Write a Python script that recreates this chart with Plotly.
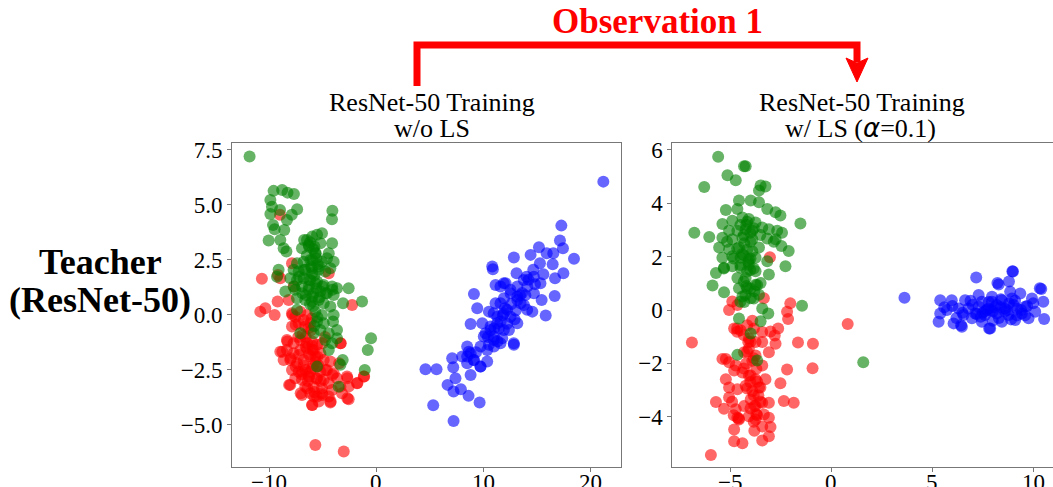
import plotly.graph_objects as go

# ---------------- data ----------------
# Left panel: ResNet-50 training w/o LS
L_red_x = [-10.69,-10.84,-10.37,-9.5,-9.22,-9.19,-8.97,-8.19,-7.88,-7.73,-4.45,-2.27,-9.0,
           -7.88,-7.57,-7.1,-6.48,-6.01,-7.88,-7.26,-6.64,-6.17,-8.35,-7.73,-7.1,-6.48,-6.01,
           -5.54,-3.36,-8.97,-8.35,-7.73,-7.1,-6.48,-5.86,-5.23,-8.66,-8.04,-7.41,-6.79,-6.17,
           -5.7,-4.92,-4.3,-7.88,-7.26,-6.64,-6.01,-5.23,-4.61,-3.99,-7.57,-6.95,-6.32,-5.54,
           -4.92,-4.45,-3.68,-2.74,-8.04,-6.64,-5.86,-5.08,-4.14,-3.36,-2.59,-1.81,-1.18,-6.95,
           -6.17,-5.54,-5.08,-4.45,-2.59,-6.01,-5.39,-4.3,-3.21,-5.7,-3.05,
           -6.3,-5.9,-6.6,-5.7,-6.2,-5.6,-6.8,-6.0,-5.4,-6.4,-5.8,-6.9,-7.3,-5.2,-6.1,-4.8,-7.0,
           -7.84,-7.53,-6.79,-6.32,-8.31,-8.78,-8.0,-7.22,-6.6,-5.98,-5.51,-5.04,-7.53,-6.91,
           -6.28,-5.51,-4.73,-4.11,-3.48,-3.33,-8.15,-7.07,-6.44,-5.82,-5.04,-4.27,-5.98,-2.71,
           -1.77,-1.15,-2.71]
L_red_y = [1.64,0.15,0.3,0.0,0.61,1.82,1.67,0.68,2.35,1.29,1.89,0.45,4.55,
           0.08,-0.08,0.15,0.0,-0.15,-0.53,-0.38,-0.53,-0.38,-1.14,-1.29,-1.14,-1.29,-1.21,
           -1.36,-1.29,-1.67,-1.59,-1.74,-1.59,-1.52,-1.59,-1.74,-2.05,-2.05,-2.2,-2.05,-1.89,
           -2.12,-2.05,-2.12,-2.5,-2.58,-2.5,-2.42,-2.58,-2.5,-2.65,-2.88,-2.95,-2.8,-2.88,
           -2.95,-3.11,-2.88,-2.8,-3.18,-3.26,-3.26,-3.33,-3.41,-3.26,-3.26,-3.11,-2.8,-3.64,
           -3.56,-3.71,-3.56,-3.71,-3.83,-4.09,-3.94,-3.98,-3.56,-5.91,-6.21,
           -1.8,-2.3,-1.0,-1.9,-2.6,-2.9,-2.3,-1.4,-2.3,-3.0,-3.5,-0.9,-1.0,-3.0,-0.7,-1.0,-2.7,
           0.0,-0.45,-0.23,-0.6,-1.21,-1.67,-1.97,-1.82,-1.44,-1.59,-1.9,-1.29,-2.35,-2.58,
           -2.8,-2.35,-2.5,-2.73,-2.2,-1.29,-3.18,-3.56,-3.33,-3.71,-3.64,-3.94,-4.09,-3.79,
           -3.1,-2.8,-2.88]

L_green_x = [-11.84,-9.6,-8.8,-8.3,-7.7,-9.9,-9.75,-9.9,-9.0,-8.35,-7.4,-7.9,-9.65,-9.5,-8.6,
             -10.06,-8.97,-8.66,-8.4,-4.11,-4.15,-9.13,-9.28,
             -6.48,-6.0,-5.54,-5.08,-6.95,-6.32,-5.79,-5.23,-4.14,-4.45,-4.61,-3.99,-7.41,-6.79,
             -6.17,-5.61,-5.08,-7.73,-7.26,-6.64,-6.01,-5.39,-4.77,-4.3,-8.04,-7.41,-6.79,-6.17,
             -5.54,-4.92,-4.14,-3.68,-2.59,-8.5,-7.57,-6.95,-6.32,-5.86,-5.23,-4.61,-3.99,-3.12,
             -1.34,-7.41,-6.64,-6.01,-5.39,-4.92,-4.3,-7.41,-5.7,-5.08,-3.99,-5.54,-4.92,-4.05,
             -5.23,-4.45,-3.68,-7.1,-5.86,-4.77,-4.14,-3.68,-4.45,-0.5,-0.81,-3.15,-3.36,-1.09,
             -5.54,-3.52,
             -6.2,-5.9,-6.5,-5.7,-6.1,-5.5,-6.0,-5.8,-6.3,-5.6,-6.6,-5.3,-5.9,-6.2,-5.5,-5.8,
             -6.75,-6.28,-5.67,-5.98,-5.35,-6.75,-7.22,-6.28,-5.67,-5.04,-7.69,-6.91,-5.98,-4.73,
             -4.11]
L_green_y = [7.2,5.64,5.68,5.56,5.5,5.23,4.92,4.59,4.77,4.32,4.8,4.55,4.09,3.89,3.86,
             3.38,3.41,3.03,2.88,4.74,4.35,2.05,1.74,
             3.41,3.56,3.64,3.71,3.03,3.18,3.11,3.26,3.26,2.8,2.58,2.42,2.35,2.42,
             2.5,2.58,2.42,2.05,1.97,2.05,2.12,2.05,1.97,2.12,1.67,1.59,1.67,1.59,
             1.52,1.36,1.29,1.21,1.21,1.06,1.14,1.29,1.14,0.98,1.06,0.98,0.91,0.53,
             0.61,0.76,0.68,0.61,0.68,0.53,0.38,0.23,0.15,0.0,0.0,-0.3,-0.38,-0.3,
             -0.68,-0.83,-0.68,-0.83,-0.83,-1.14,-1.29,-1.06,-1.59,-1.06,-1.59,-2.05,-2.27,-2.5,
             -2.35,-3.26,
             3.3,3.0,2.7,2.8,2.2,2.3,1.9,1.8,1.3,1.2,0.9,0.8,0.4,0.5,-0.1,-0.5,
             3.41,3.1,2.8,2.5,2.2,2.05,1.74,1.59,1.44,1.29,1.29,0.98,0.83,0.98,
             1.14]

L_blue_x = [21.18,17.26,17.13,17.41,18.44,15.17,14.39,12.83,15.89,16.51,17.45,16.67,16.45,15.58,
            15.26,14.64,14.02,13.08,16.64,15.8,15.42,14.7,14.08,13.15,12.06,11.12,10.81,10.87,
            9.1,9.41,10.5,8.79,9.88,11.12,11.9,12.52,13.15,13.77,14.55,11.28,11.9,12.52,13.15,
            10.65,11.43,12.37,10.19,10.97,11.74,12.83,9.72,10.5,10.97,8.47,8.79,8.01,9.1,9.72,
            10.34,8.47,8.79,7.07,7.17,4.58,5.61,7.38,6.64,7.2,7.88,8.6,9.63,5.3,7.2,
            12.0,12.6,13.4,11.6,12.2,13.0,13.6,11.0,11.8,12.9,14.2,10.4,11.3,9.3,14.8,13.9,
            11.89,12.51,13.14,11.58,12.2,10.95,11.27,11.89,10.64,10.02,10.95,11.58,12.82,8.47,
            9.08,9.71,13.75,14.69,15.31,13.45,14.07,10.34,8.62,11.58]
L_blue_y = [6.06,4.06,3.38,3.03,2.55,3.08,2.73,2.61,2.8,2.8,1.89,1.67,2.3,1.85,
            2.35,2.05,1.74,1.89,0.86,-0.03,0.68,0.98,1.29,1.29,1.44,1.36,2.2,2.08,
            0.95,0.3,0.15,-0.41,-0.38,0.53,0.76,0.98,0.68,0.45,0.15,-0.08,0.08,-0.08,-0.38,
            -0.53,-0.61,-0.68,-0.83,-0.98,-1.06,-1.36,-1.44,-1.36,-1.44,-1.44,-1.74,-1.89,-2.05,-2.35,
            -2.12,-2.2,-2.73,-1.97,-2.38,-2.47,-2.47,-2.88,-3.18,-3.48,-3.38,-3.68,-3.98,-4.11,-4.82,
            0.3,0.5,0.9,-0.3,-0.4,0.2,1.0,-0.6,0.0,-0.2,1.6,-1.0,-1.2,-1.7,1.4,0.9,
            1.44,1.14,0.83,0.53,0.23,0.08,-0.38,-0.68,-0.68,-0.98,-1.14,-1.29,-1.29,-1.89,
            -2.05,-2.35,1.59,1.74,1.44,0.53,0.23,-1.59,-1.67,1.29]

# Right panel: ResNet-50 training w/ LS (alpha = 0.1)
R_red_x = [-6.89,-5.95,0.82,-0.9,-0.92,-1.64,-2.02,-2.18,-2.13,-2.62,-2.79,-2.75,-3.0,-3.33,-3.03,
           -4.89,-5.05,-4.64,-4.8,-4.48,-4.15,-3.82,-3.41,-4.07,-3.74,-3.41,-3.08,-5.38,-5.05,
           -4.72,-4.31,-4.07,-3.74,-3.41,-3.25,-5.21,-4.8,-4.39,-4.07,-3.74,-5.05,-4.64,-4.23,
           -3.9,-3.57,-2.51,-2.18,-2.34,-1.85,-5.7,-5.3,-5.05,-4.72,-4.64,-4.31,-3.98,-3.74,
           -3.41,-3.08,-4.07,-3.74,-3.33,-3.08,-4.8,-3.8,-3.41,-3.0,-4.8,-4.39,-3.41,-3.08,
           -4.56,-5.21,
           -3.9,-3.7,-4.0,-3.6,-3.8,-4.1,-3.5,-3.9,-3.7,-4.2,
           -4.65,-4.32,-3.99,-4.16,-3.83,-4.32,-3.99,-3.66,-4.16,-3.83,-3.5,-3.99,-3.66,-3.83,
           -4.65,-4.82,-4.57,-4.9]
R_red_y = [-1.22,-5.43,-0.52,-1.26,-2.18,-1.22,0.25,-0.06,-0.34,-0.69,-0.95,-1.26,-0.8,0.44,1.98,
           0.32,0.0,0.19,-0.69,-0.76,-0.57,-0.69,-0.82,-1.07,-1.2,-1.2,-1.58,-1.83,-1.96,
           -2.08,-1.58,-1.45,-1.7,-2.08,-2.59,-2.59,-2.27,-2.34,-2.46,-2.59,-2.9,-2.97,-2.84,
           -3.03,-2.9,-2.74,-2.23,-3.41,-3.47,-3.45,-3.7,-3.28,-3.72,-4.04,-3.6,-3.35,-3.6,
           -3.47,-3.47,-3.98,-4.1,-3.91,-4.04,-4.48,-4.52,-4.36,-4.38,-4.92,-4.99,-4.89,-4.73,
           -4.1,-1.83,
           -1.9,-2.2,-2.7,-3.2,-3.6,-1.2,-2.9,-0.4,-3.9,-2.0,
           -0.69,-0.94,-1.19,-1.56,-1.81,-2.19,-2.44,-2.69,-2.94,-3.19,-3.44,-3.69,-3.94,-4.19,
           -0.81,-3.94,-4.06,-3.44]

R_green_x = [-5.59,-4.31,-4.23,-5.13,-4.72,-6.28,-3.49,-3.25,-3.57,-4.56,-3.98,-3.57,-5.21,-4.64,
             -3.16,-2.75,-2.51,-1.52,-6.77,-6.03,-5.38,-4.89,-4.39,-4.07,-3.74,-3.41,-3.08,-2.67,
             -2.43,-5.05,-4.64,-4.23,-3.9,-5.38,-4.89,-4.39,-3.9,-2.75,-5.54,-5.05,-4.56,-4.15,
             -3.57,-2.46,-2.1,-5.38,-4.89,-4.48,-4.07,-3.74,-3.16,-2.26,-5.7,-5.3,-4.89,-4.48,
             -4.07,-3.74,-3.08,-4.64,-4.23,-5.87,-5.3,-4.56,-4.15,-3.74,-3.49,-4.39,-3.98,-3.57,
             -1.44,-3.41,-3.11,-3.49,-4.56,-3.98,-4.64,-3.66,1.59,
             -4.2,-4.0,-4.3,-3.9,-4.1,-4.4,-4.0,-4.2,-3.8,-4.3,
             -4.49,-4.16,-3.83,-4.32,-3.99,-3.5,-4.65,-4.32,-3.99,-4.49,-4.16,-3.83,-4.32,-3.99,
             -3.66,-4.24,-4.49,-3.83,-3.17,-2.84,-5.15,-4.82,-5.31]
R_green_y = [5.74,5.39,5.39,5.05,4.86,4.61,4.67,4.63,4.48,4.1,4.1,4.04,3.75,3.79,
             3.79,3.66,3.54,3.24,2.9,2.74,3.22,3.35,3.47,3.41,3.28,3.09,3.03,2.97,
             2.9,2.97,2.97,3.03,2.97,2.71,2.65,2.71,2.65,2.65,2.34,2.27,2.34,2.27,
             2.34,2.4,2.21,1.96,2.02,1.96,1.89,1.96,1.83,1.64,1.39,1.58,1.64,1.58,
             1.7,1.45,1.33,1.2,1.2,0.92,0.67,0.82,0.82,0.95,1.01,0.51,0.44,0.57,
             0.16,0.06,-0.13,-0.42,-0.32,-0.88,-1.68,-1.89,-1.96,
             3.2,2.9,2.5,2.2,1.8,2.1,1.5,0.9,0.7,0.3,
             3.19,3.31,3.06,2.81,2.56,2.81,2.31,2.06,1.93,1.69,1.44,1.56,1.06,0.81,
             0.94,0.56,0.31,0.43,2.68,2.56,2.56,1.93,1.56]

R_blue_x = [3.63,7.18,9.0,8.29,10.4,10.5,10.54,5.32,5.4,5.4,5.97,6.06,6.47,7.87,6.63,7.3,7.96,
            8.86,9.36,9.94,9.6,10.1,9.77,9.11,8.45,7.46,6.97,5.73,6.31,6.8,7.3,7.79,8.2,8.61,
            9.03,8.2,7.62,8.78,9.44,7.13,6.55,7.96,8.45,8.95,7.46,8.23,8.8,10.33,7.82,6.43,8.97,
            7.7,8.0,8.4,8.7,9.2,7.5,8.1,8.6,9.4,7.9,
            6.0,6.5,7.0,7.4,7.8,8.3,8.8,9.2,9.7,6.2,6.9,7.6,8.4,9.1,9.6,10.0,5.6,8.0,8.9,7.2]
R_blue_y = [0.46,1.22,1.44,0.96,0.79,0.31,-0.34,-0.44,-0.13,0.37,0.37,-0.5,-0.63,-0.69,0.37,0.56,
            0.5,0.69,0.62,0.43,0.12,-0.06,-0.31,-0.37,-0.44,-0.44,-0.31,0.0,0.06,0.06,0.12,0.06,
            0.19,0.06,0.19,-0.13,-0.19,-0.19,-0.13,-0.13,-0.19,0.31,0.37,0.43,0.31,1.01,1.07,0.82,
            -0.69,-0.57,1.45,
            0.0,-0.05,0.1,0.0,0.05,-0.1,0.1,-0.05,0.0,0.0,
            0.15,-0.1,0.2,-0.25,0.3,-0.3,0.25,-0.2,0.15,-0.3,0.35,-0.05,0.4,0.35,-0.2,0.25,0.1,-0.4,-0.35,-0.15]

L_xticks = [-10, 0, 10, 20]
L_xtext = ["\u221210", "0", "10", "20"]
L_yticks = [-5, -2.5, 0, 2.5, 5, 7.5]
L_ytext = ["\u22125.0", "\u22122.5", "0.0", "2.5", "5.0", "7.5"]
R_xticks = [-5, 0, 5, 10]
R_xtext = ["\u22125", "0", "5", "10"]
R_yticks = [-4, -2, 0, 2, 4, 6]
R_ytext = ["\u22124", "\u22122", "0", "2", "4", "6"]

# ---------------- figure ----------------
W, H = 1053, 487
FONT = "Liberation Serif, Times New Roman, serif"

def px(x):
    return x / W

def py(y):
    return 1 - y / H

fig = go.Figure()
colors = {"red": "rgba(255,0,0,0.6)", "green": "rgba(0,128,0,0.6)", "blue": "rgba(0,0,255,0.6)"}

def add(xs, ys, col, xa, ya):
    fig.add_trace(go.Scatter(x=xs, y=ys, mode="markers", xaxis=xa, yaxis=ya,
                             marker=dict(size=12, color=colors[col], line=dict(width=0)),
                             showlegend=False, hoverinfo="skip"))

add(L_red_x, L_red_y, "red", "x", "y")
add(L_green_x, L_green_y, "green", "x", "y")
add(L_blue_x, L_blue_y, "blue", "x", "y")
add(R_red_x, R_red_y, "red", "x2", "y2")
add(R_green_x, R_green_y, "green", "x2", "y2")
add(R_blue_x, R_blue_y, "blue", "x2", "y2")

ax = dict(showline=True, linecolor="#777", linewidth=1, mirror=True, showgrid=False,
          zeroline=False, tickfont=dict(family=FONT, size=23, color="black"),
          tickmode="array", ticks="outside", ticklen=4, tickcolor="#777", automargin=False)

ydom = [py(466.7), py(142.7)]
fig.update_layout(
    width=W, height=H, margin=dict(l=0, r=0, t=0, b=0),
    paper_bgcolor="white", plot_bgcolor="white",
    xaxis=dict(domain=[px(232), px(620.7)], range=[-13.48, 22.8], tickvals=L_xticks,
               showticklabels=False, anchor="y", **ax),
    yaxis=dict(domain=ydom, range=[-6.9, 7.83], tickvals=L_yticks, ticktext=L_ytext,
               anchor="x", **ax),
    xaxis2=dict(domain=[px(672.3), 1.0], range=[-7.86, 10.98], tickvals=R_xticks,
                showticklabels=False, anchor="y2", **ax),
    yaxis2=dict(domain=ydom, range=[-5.87, 6.27], tickvals=R_yticks, ticktext=R_ytext,
                anchor="x2", **ax),
)

# x tick labels placed through the x axes' own scales (set slightly closer to the axis)
for xr, vals, labels in (("x", L_xticks, L_xtext), ("x2", R_xticks, R_xtext)):
    for v, lab in zip(vals, labels):
        fig.add_annotation(x=v, xref=xr, y=py(482), yref="paper", text=lab, showarrow=False,
                           xanchor="center", yanchor="middle",
                           font=dict(family=FONT, size=23, color="black"))

def txt(x, y, s, size, color="black"):
    fig.add_annotation(x=px(x), y=py(y), xref="paper", yref="paper", text=s, showarrow=False,
                       xanchor="center", yanchor="middle",
                       font=dict(family=FONT, size=size, color=color))

txt(432, 102, "ResNet-50 Training", 26)
txt(432, 128, "w/o LS", 26)
txt(862, 102, "ResNet-50 Training", 26)
txt(860, 128, "w/ LS (<span style=\"font-family:'DejaVu Sans';font-style:italic\">\u03b1</span>=0.1)", 26)
txt(100, 262, "<b>Teacher</b>", 36)
txt(100, 300, "<b>(ResNet-50)</b>", 36)
txt(657, 21, "<b>Observation 1</b>", 35, color="red")

# red bracket arrow
fig.add_shape(type="path", xref="paper", yref="paper",
              path=f"M {px(417)},{py(86)} L {px(417)},{py(45)} L {px(857)},{py(45)} L {px(857)},{py(62)}",
              line=dict(color="red", width=7))
fig.add_shape(type="path", xref="paper", yref="paper",
              path=f"M {px(846)},{py(58)} L {px(857)},{py(63)} L {px(868)},{py(58)} L {px(857)},{py(82)} Z",
              line=dict(color="red", width=1), fillcolor="red")

fig.write_html("out.html", config={"displayModeBar": False},
               post_script="document.body.style.margin='0px';")
